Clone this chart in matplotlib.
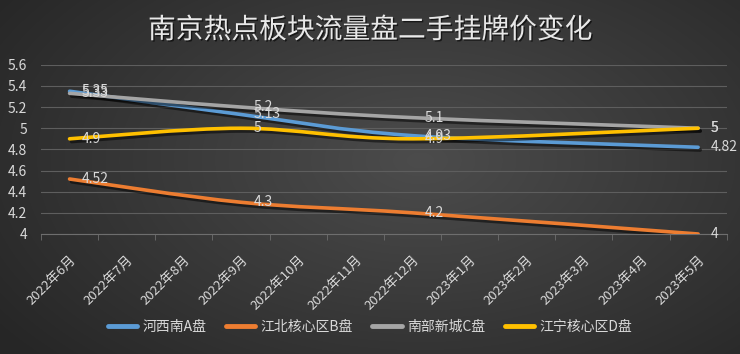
import numpy as np
import matplotlib
matplotlib.use("Agg")
from matplotlib import pyplot as plt
from matplotlib.path import Path
from matplotlib.patches import PathPatch
from matplotlib.lines import Line2D
import matplotlib.patheffects as pe

plt.rcParams['font.family'] = ['Noto Sans CJK SC', 'DejaVu Sans']

months = ["2022年6月", "2022年7月", "2022年8月", "2022年9月", "2022年10月", "2022年11月",
          "2022年12月", "2023年1月", "2023年2月", "2023年3月", "2023年4月", "2023年5月"]
names = ["河西南A盘", "江北核心区B盘", "南部新城C盘", "江宁核心区D盘"]
colors = ["#5B9BD5", "#ED7D31", "#A5A5A5", "#FFC000"]

# only these months have values
point_idx = [0, 3, 6, 11]
price_a = [5.35, 5.13, 4.93, 4.82]
price_b = [4.52, 4.3, 4.2, 4.0]
price_c = [5.33, 5.2, 5.1, 5.0]
price_d = [4.9, 5.0, 4.9, 5.0]
series = [price_a, price_b, price_c, price_d]

text_col = "#d9d9d9"

fig = plt.figure(figsize=(7.4, 3.54), dpi=100)

# dark radial background
bg = fig.add_axes([0, 0, 1, 1])
yy, xx = np.mgrid[0:354, 0:740]
r = np.sqrt(((xx - 420) / 520.0) ** 2 + ((yy - 160) / 300.0) ** 2)
r = np.clip(r, 0, 1)
c0 = np.array([0x4c, 0x4c, 0x4c]) / 255.0
c1 = np.array([0x26, 0x26, 0x26]) / 255.0
img = c0 + (c1 - c0) * r[..., None]
bg.imshow(img, aspect="auto", extent=[0, 1, 0, 1])
bg.axis("off")

ax = fig.add_axes([0.0554, 0.339, 0.9266, 0.478])
ax.patch.set_alpha(0)


def smooth_path(xs, ys):
    pts = np.column_stack([xs, ys]).astype(float)
    n = len(pts)
    verts = [pts[0]]
    codes = [Path.MOVETO]
    for i in range(n - 1):
        p_prev = pts[i - 1] if i > 0 else pts[i]
        p_next2 = pts[i + 2] if i + 2 < n else pts[i + 1]
        c1_ = pts[i] + (pts[i + 1] - p_prev) / 6.0
        c2_ = pts[i + 1] - (p_next2 - pts[i]) / 6.0
        verts += [c1_, c2_, pts[i + 1]]
        codes += [Path.CURVE4] * 3
    return Path(verts, codes)


for vals, col in zip(series, colors):
    patch = PathPatch(smooth_path(point_idx, vals), fill=False, edgecolor=col, lw=2.6,
                      capstyle="round", zorder=3,
                      path_effects=[pe.SimpleLineShadow(offset=(1.5, -2), alpha=0.5, shadow_color="black"),
                                    pe.Normal()])
    ax.add_patch(patch)
    for xi, v in zip(point_idx, vals):
        ax.annotate(f"{v:g}", (xi, v), xytext=(9, 0), textcoords="offset points",
                    ha="left", va="center", fontsize=10, color=text_col, zorder=4)

ax.set_xlim(-0.5, 11.5)
ax.set_ylim(4, 5.6)
ax.set_yticks(np.arange(4, 5.61, 0.2))
ax.set_yticklabels([f"{v:g}" for v in np.arange(4, 5.61, 0.2).round(1)], fontsize=10, color=text_col)
ax.grid(axis="y", color="#5e5e5e", lw=0.8)
ax.set_axisbelow(True)
ax.set_xticks(range(12))
ax.set_xticklabels(months, rotation=45, ha="right", rotation_mode="anchor", fontsize=9.5, color=text_col)
ax.set_xticks(np.arange(-0.5, 12, 1), minor=True)
ax.tick_params(axis="x", which="major", length=0, pad=14)
ax.tick_params(axis="x", which="minor", length=4, color="#6e6e6e")
ax.tick_params(axis="y", length=0, pad=10)
for s in ["top", "right", "left"]:
    ax.spines[s].set_visible(False)
ax.spines["bottom"].set_color("#6e6e6e")
ax.spines["bottom"].set_linewidth(0.8)

fig.text(0.5, 0.915, "南京热点板块流量盘二手挂牌价变化", ha="center", va="center",
         fontsize=20, color="#e8e8e8",
         path_effects=[pe.withSimplePatchShadow(offset=(1, -1), shadow_rgbFace="black", alpha=0.6)])

handles = [Line2D([], [], color=c, lw=3.5, solid_capstyle="round") for c in colors]
leg = fig.legend(handles, names, loc="center", bbox_to_anchor=(0.5, 0.076), ncol=4, frameon=False,
                 fontsize=10, handlelength=2.1, handletextpad=0.4, columnspacing=1.4)
for t in leg.get_texts():
    t.set_color(text_col)

fig.savefig("out.png", dpi=100)
